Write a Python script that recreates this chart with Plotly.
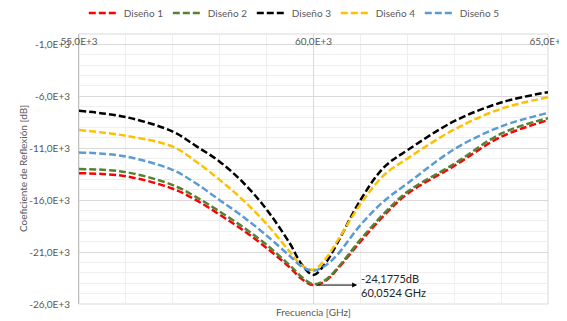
import plotly.graph_objects as go

# Data
freq = [55, 56, 57, 57.5, 58, 58.5, 59, 59.5, 59.75, 60, 60.25, 60.5, 61, 61.5, 62, 63, 64, 65]
diseno1 = [-13.4, -13.7, -14.9, -16.0, -17.4, -18.9, -20.6, -22.5, -23.6, -24.18, -23.8, -22.7, -20.0, -17.5, -15.4, -12.7, -9.9, -8.3]
diseno2 = [-13.0, -13.3, -14.55, -15.7, -17.1, -18.6, -20.3, -22.3, -23.4, -24.1, -23.7, -22.6, -19.8, -17.3, -15.2, -12.5, -9.6, -8.1]
diseno3 = [-7.4, -8.0, -9.4, -10.8, -12.3, -14.3, -16.9, -20.2, -22.2, -23.2, -22.1, -20.2, -16.0, -12.85, -11.2, -8.4, -6.6, -5.6]
diseno4 = [-9.25, -9.8, -10.85, -12.3, -14.05, -16.0, -18.3, -21.0, -22.3, -22.7, -21.7, -20.0, -16.4, -13.6, -12.0, -9.2, -7.2, -6.1]
diseno5 = [-11.4, -11.8, -13.1, -14.4, -16.0, -17.6, -19.4, -21.4, -22.4, -22.8, -22.3, -21.3, -18.4, -16.1, -14.4, -11.1, -8.9, -7.6]

series_names = ["Diseño 1", "Diseño 2", "Diseño 3", "Diseño 4", "Diseño 5"]
series_values = [diseno1, diseno2, diseno3, diseno4, diseno5]
series_colors = ["#FF0000", "#548235", "#000000", "#FFC000", "#5B9BD5"]

x_tickvals = [55, 60, 65]
x_ticktext = ["55,0E+3", "60,0E+3", "65,0E+3"]
y_tickvals = [-26, -21, -16, -11, -6, -1]
y_ticktext = ["-26,0E+3", "-21,0E+3", "-16,0E+3", "-11,0E+3", "-6,0E+3", "-1,0E+3"]

min_freq = 60.0524
min_val = -24.1775
arrow_end_freq = 60.93
label_freq = 60.97

FONT = "Lato"
GRAY = "#595959"

fig = go.Figure()
for name, vals, col in zip(series_names, series_values, series_colors):
    fig.add_trace(go.Scatter(
        x=freq, y=vals, name=name, mode="lines",
        line=dict(color=col, width=2.5, dash="7px,3px", shape="spline", smoothing=1.0),
    ))

# The page body has a default 8px margin, so the figure is sized to fit the window.
fig.update_layout(
    width=559, height=313,
    margin=dict(l=71, r=19, t=26, b=17, autoexpand=False),
    paper_bgcolor="white", plot_bgcolor="white",
    font=dict(family=FONT, size=10, color=GRAY),
    showlegend=True,
    legend=dict(orientation="h", x=0.458, xanchor="center", y=1.078, yanchor="middle",
                font=dict(size=10, color=GRAY), bgcolor="rgba(0,0,0,0)",
                itemwidth=30, tracegroupgap=0, entrywidth=39, entrywidthmode="pixels"),
    xaxis=dict(range=[55, 65], tickvals=x_tickvals, ticktext=x_ticktext,
               anchor="free", position=1, side="bottom", showline=False, ticks="",
               showgrid=True, gridcolor="#d9d9d9", gridwidth=1, zeroline=False,
               minor=dict(dtick=1, tick0=55, showgrid=True, gridcolor="#eeeeee", gridwidth=1),
               tickfont=dict(size=10, color=GRAY), automargin=False),
    yaxis=dict(range=[-26, 0], tickvals=y_tickvals, ticktext=y_ticktext,
               showline=True, linecolor="#bfbfbf", linewidth=1, ticks="",
               showgrid=True, gridcolor="#d9d9d9", gridwidth=1, zeroline=False,
               minor=dict(dtick=1, tick0=-26, showgrid=True, gridcolor="#eeeeee", gridwidth=1),
               tickfont=dict(size=10, color=GRAY), ticklabelstandoff=6, automargin=False),
    shapes=[dict(type="rect", xref="paper", yref="paper", x0=0, x1=1, y0=0, y1=1,
                 line=dict(color="#d9d9d9", width=1), layer="below")],
    annotations=[
        dict(x=arrow_end_freq, y=min_val, ax=min_freq, ay=min_val, axref="x", ayref="y",
             xref="x", yref="y", text="", showarrow=True, arrowhead=2, arrowsize=1,
             arrowwidth=1, arrowcolor="#000000"),
        dict(x=label_freq, y=min_val, xref="x", yref="y", xanchor="left", yanchor="middle",
             text="-24,1775dB<br>60,0524 GHz", showarrow=False, align="left",
             font=dict(size=11, color="#262626", family=FONT)),
        dict(x=0.5, y=-8 / 270, xref="paper", yref="paper",
             text="Frecuencia [GHz]", showarrow=False, xanchor="center", yanchor="middle",
             font=dict(size=10, color=GRAY)),
        dict(x=-56 / 469, y=0.5, xref="paper", yref="paper",
             text="Coeficiente de Reflexión [dB]", showarrow=False, textangle=-90,
             xanchor="center", yanchor="middle", font=dict(size=10, color=GRAY)),
    ],
)

fig.write_html("out.html")
